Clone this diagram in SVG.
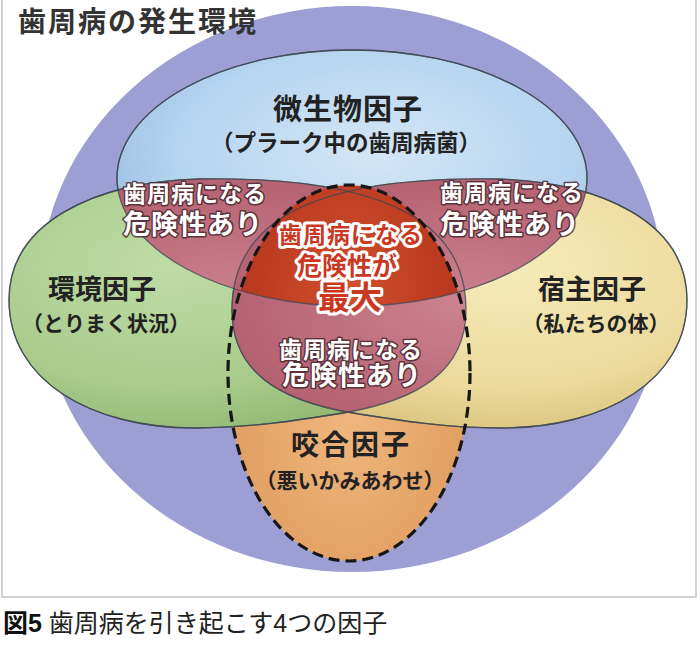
<svg xmlns="http://www.w3.org/2000/svg" width="700" height="655" viewBox="0 0 700 655">
<defs>
<style>
text{font-family:"Liberation Sans","Noto Sans CJK JP",sans-serif;font-weight:bold;text-anchor:middle}
.lbl{fill:#222}
.sub{fill:#222;font-size:21px}
.risk{fill:#fff;stroke:#4a2830;stroke-opacity:.85;stroke-width:3;paint-order:stroke;stroke-linejoin:round}
.max{fill:#c9381f;stroke:#fff;stroke-width:6;paint-order:stroke;stroke-linejoin:round}
.edge{fill:none;stroke:#3b4650;stroke-opacity:.75;stroke-width:1.3}
</style>
<radialGradient id="gBlue" cx="0.55" cy="0.4" r="0.6">
<stop offset="0" stop-color="#d3e6f6"/><stop offset="0.7" stop-color="#b6d4ef"/><stop offset="1" stop-color="#9dc0e2"/>
</radialGradient>
<radialGradient id="gGreen" cx="0.35" cy="0.35" r="0.7">
<stop offset="0" stop-color="#bfdca6"/><stop offset="0.7" stop-color="#a8cb8b"/><stop offset="1" stop-color="#93b874"/>
</radialGradient>
<radialGradient id="gYellow" cx="0.6" cy="0.35" r="0.7">
<stop offset="0" stop-color="#f6ebba"/><stop offset="0.7" stop-color="#ecda9c"/><stop offset="1" stop-color="#d8c27c"/>
</radialGradient>
<radialGradient id="gPink" cx="0.5" cy="0.5" r="0.6">
<stop offset="0" stop-color="#cc8290"/><stop offset="1" stop-color="#b15c6c"/>
</radialGradient>
<radialGradient id="gRed" cx="0.5" cy="0.3" r="0.5">
<stop offset="0" stop-color="#d0502e"/><stop offset="1" stop-color="#b5341c"/>
</radialGradient>
<radialGradient id="gOrange" cx="0.5" cy="0.6" r="0.55">
<stop offset="0" stop-color="#f0b77f"/><stop offset="1" stop-color="#df9c5e"/>
</radialGradient>
<clipPath id="cBlue"><ellipse cx="352" cy="178" rx="235" ry="128"/></clipPath>
<clipPath id="cGreen"><path d="M 9,300 C 9,222 95,182 200,179 C 400,176 466,230 466,310 C 466,370 420,400 343,413 C 300,420 250,428 195,428 C 90,428 9,380 9,300 Z"/></clipPath>
</defs>

<rect x="2" y="-2" width="694" height="599" fill="#fff" stroke="#d2d2d2" stroke-width="2"/>

<g id="environment-circle">
<ellipse cx="352" cy="289" rx="312" ry="283" fill="#9d9ed4"/>
</g>

<g id="occlusion-factor">
<ellipse cx="349" cy="373" rx="121" ry="188" fill="url(#gOrange)"/>
</g>

<g id="microbial-factor">
<ellipse cx="352" cy="178" rx="235" ry="128" class="edge" style="fill:url(#gBlue)"/>
</g>

<g id="environmental-factor">
<path d="M 9,300 C 9,222 95,182 200,179 C 400,176 466,230 466,310 C 466,370 420,400 343,413 C 300,420 250,428 195,428 C 90,428 9,380 9,300 Z" class="edge" style="fill:url(#gGreen)"/>
</g>

<g id="host-factor">
<path d="M 687,300 C 687,222 601,182 496,179 C 296,176 232,230 232,310 C 232,370 276,400 353,413 C 396,420 446,428 501,428 C 606,428 687,380 687,300 Z" class="edge" style="fill:url(#gYellow)"/>
</g>

<g id="risk-left">
<path d="M 9,300 C 9,222 95,182 200,179 C 400,176 466,230 466,310 C 466,370 420,400 343,413 C 300,420 250,428 195,428 C 90,428 9,380 9,300 Z" fill="url(#gPink)" clip-path="url(#cBlue)"/>
</g>
<g id="risk-right">
<path d="M 687,300 C 687,222 601,182 496,179 C 296,176 232,230 232,310 C 232,370 276,400 353,413 C 396,420 446,428 501,428 C 606,428 687,380 687,300 Z" fill="url(#gPink)" clip-path="url(#cBlue)"/>
</g>
<g id="risk-bottom">
<path d="M 687,300 C 687,222 601,182 496,179 C 296,176 232,230 232,310 C 232,370 276,400 353,413 C 396,420 446,428 501,428 C 606,428 687,380 687,300 Z" fill="url(#gPink)" clip-path="url(#cGreen)"/>
</g>
<g id="risk-max">
<ellipse cx="349" cy="373" rx="121" ry="188" fill="url(#gRed)" clip-path="url(#cBlue)"/>
</g>

<g id="outlines">
<ellipse cx="352" cy="178" rx="235" ry="128" class="edge" stroke-opacity=".35"/>
<path d="M 9,300 C 9,222 95,182 200,179 C 400,176 466,230 466,310 C 466,370 420,400 343,413 C 300,420 250,428 195,428 C 90,428 9,380 9,300 Z" class="edge" stroke-opacity=".35"/>
<path d="M 687,300 C 687,222 601,182 496,179 C 296,176 232,230 232,310 C 232,370 276,400 353,413 C 396,420 446,428 501,428 C 606,428 687,380 687,300 Z" class="edge" stroke-opacity=".35"/>
<ellipse cx="349" cy="373" rx="121" ry="188" fill="none" stroke="#161616" stroke-width="3.2" stroke-dasharray="11 6"/>
</g>

<g id="connectors"/>

<g id="labels">
<text class="lbl" x="348" y="120" font-size="29" letter-spacing="1">微生物因子</text>
<text class="sub" x="346" y="151" style="font-size:22.5px">（プラーク中の歯周病菌）</text>
<text class="lbl" x="102" y="299" font-size="27">環境因子</text>
<text class="sub" x="106" y="331">（とりまく状況）</text>
<text class="lbl" x="592" y="299" font-size="27">宿主因子</text>
<text class="sub" x="596" y="331">（私たちの体）</text>
<text class="lbl" x="351" y="455" font-size="28" letter-spacing="2">咬合因子</text>
<text class="sub" x="350" y="488">（悪いかみあわせ）</text>

<text class="risk" x="195" y="202" font-size="23" letter-spacing="1">歯周病になる</text>
<text class="risk" x="193" y="234" font-size="27" letter-spacing="1">危険性あり</text>
<text class="risk" x="512" y="201" font-size="23" letter-spacing="1">歯周病になる</text>
<text class="risk" x="510" y="234" font-size="27" letter-spacing="1">危険性あり</text>
<text class="risk" x="351" y="358" font-size="23" letter-spacing="1">歯周病になる</text>
<text class="risk" x="352" y="385" font-size="27" letter-spacing="1">危険性あり</text>

<text class="max" x="351" y="243" font-size="23" letter-spacing="1">歯周病になる</text>
<text class="max" x="347" y="275" font-size="25">危険性が</text>
<text class="max" x="350" y="309" font-size="32">最大</text>
</g>

<g id="title">
<text x="18" y="32" font-size="28" letter-spacing="2" fill="#333" style="text-anchor:start">歯周病の発生環境</text>
</g>

<g id="caption">
<text x="3" y="632" font-size="25" fill="#222" style="text-anchor:start;font-weight:normal"><tspan font-weight="bold" fill="#111">図5</tspan> 歯周病を引き起こす4つの因子</text>
</g>
</svg>
